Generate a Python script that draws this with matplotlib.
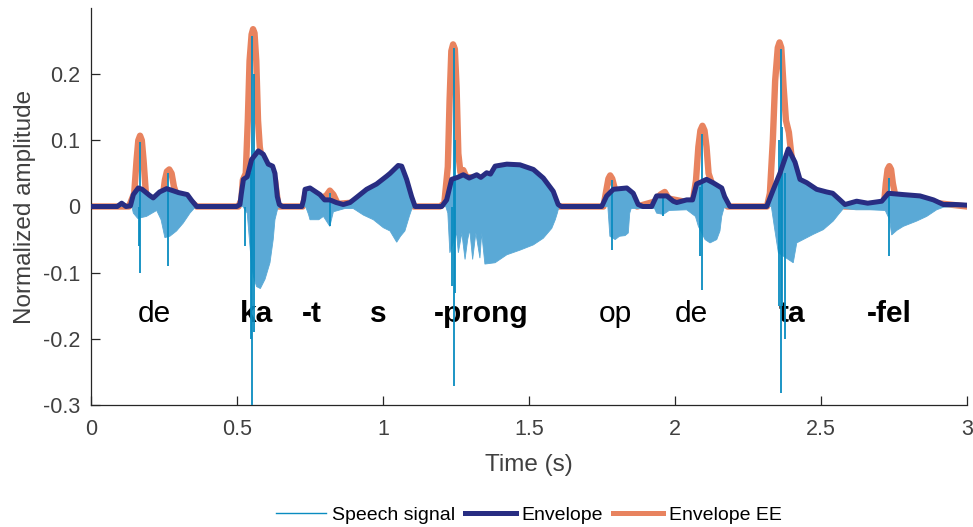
import numpy as np
import matplotlib
matplotlib.use("Agg")
import matplotlib.pyplot as plt
from matplotlib.lines import Line2D

# ---------------- data ----------------
env_t = [0, 0.09, 0.105, 0.12, 0.135, 0.145, 0.162, 0.175, 0.2, 0.213, 0.235, 0.259, 0.28, 0.30, 0.33, 0.345, 0.362,
         0.499, 0.51, 0.515, 0.522, 0.535, 0.55, 0.573, 0.59, 0.607, 0.622, 0.63, 0.638, 0.645, 0.655,
         0.722, 0.728, 0.733, 0.75, 0.784, 0.80, 0.818, 0.84, 0.864, 0.887, 0.91, 0.944, 0.978, 1.013, 1.024,
         1.052, 1.064, 1.081, 1.098, 1.11, 1.201, 1.218, 1.235, 1.255, 1.275, 1.295, 1.321, 1.335, 1.355,
         1.368, 1.384, 1.424, 1.469, 1.515, 1.549, 1.583, 1.6, 1.61, 1.749, 1.766, 1.789, 1.835, 1.857,
         1.874, 1.89, 1.92, 1.937, 1.972, 1.994, 2.006, 2.04, 2.06, 2.074, 2.108, 2.13, 2.16, 2.17, 2.188,
         2.314, 2.337, 2.36, 2.388, 2.411, 2.428, 2.451, 2.485, 2.519, 2.54, 2.565, 2.582, 2.622, 2.66,
         2.708, 2.731, 2.782, 2.839, 2.885, 2.919, 2.96, 3.0]
env_v = [0, 0, 0.005, 0, 0.001, 0.018, 0.028, 0.026, 0.017, 0.013, 0.022, 0.027, 0.024, 0.021, 0.018, 0.009, 0,
         0, 0.003, 0.02, 0.041, 0.045, 0.071, 0.084, 0.079, 0.064, 0.061, 0.05, 0.015, 0.003, 0,
         0, 0.01, 0.026, 0.028, 0.018, 0.01, 0.01, 0.006, 0.003, 0.006, 0.014, 0.026, 0.034, 0.046, 0.05,
         0.062, 0.061, 0.041, 0.015, 0, 0, 0.01, 0.041, 0.044, 0.048, 0.043, 0.048, 0.044, 0.051,
         0.049, 0.061, 0.064, 0.063, 0.056, 0.043, 0.023, 0.003, 0, 0, 0.016, 0.026, 0.028, 0.02,
         0.003, 0, 0, 0.016, 0.016, 0.008, 0.006, 0.01, 0.01, 0.034, 0.041, 0.036, 0.028, 0.015, 0,
         0, 0.026, 0.051, 0.087, 0.067, 0.041, 0.036, 0.026, 0.022, 0.02, 0.01, 0.003, 0.008, 0.005,
         0.008, 0.02, 0.018, 0.016, 0.01, 0.003, 0.003, 0.002]

ee_t = [0, 0.13, 0.148, 0.156, 0.162, 0.168, 0.174, 0.18, 0.188, 0.2, 0.245, 0.253, 0.26, 0.268, 0.276, 0.284,
        0.295, 0.33, 0.362, 0.505, 0.515, 0.52, 0.53, 0.537, 0.543, 0.55, 0.555, 0.56, 0.566, 0.572, 0.578,
        0.585, 0.60, 0.63, 0.642, 0.725, 0.735, 0.78, 0.805, 0.818, 0.83, 0.845, 0.9, 1.0, 1.05, 1.08, 1.105,
        1.195, 1.21, 1.222, 1.228, 1.234, 1.24, 1.246, 1.252, 1.258, 1.265, 1.275, 1.285, 1.35, 1.5, 1.58,
        1.6, 1.755, 1.765, 1.772, 1.778, 1.785, 1.795, 1.85, 1.87, 1.935, 1.95, 1.965, 1.978, 2.06, 2.072,
        2.08, 2.087, 2.094, 2.101, 2.108, 2.115, 2.13, 2.18, 2.315, 2.325, 2.335, 2.343, 2.352, 2.358,
        2.364, 2.372, 2.38, 2.39, 2.398, 2.41, 2.44, 2.58, 2.715, 2.722, 2.728, 2.734, 2.74, 2.746, 2.755,
        2.9, 3.0]
ee_v = [0, 0, 0.02, 0.07, 0.1, 0.107, 0.1, 0.07, 0.02, 0.008, 0.012, 0.04, 0.053, 0.056, 0.05, 0.03,
        0.015, 0.012, 0, 0, 0.01, 0.04, 0.05, 0.13, 0.22, 0.26, 0.268, 0.262, 0.22, 0.13, 0.09,
        0.07, 0.05, 0.04, 0, 0, 0.02, 0.012, 0.016, 0.024, 0.018, 0.004, 0.006, 0.035, 0.05, 0.03, 0,
        0, 0.005, 0.06, 0.16, 0.235, 0.245, 0.238, 0.18, 0.08, 0.052, 0.055, 0.045, 0.04, 0.045, 0.015,
        0, 0, 0.025, 0.042, 0.047, 0.042, 0.025, 0.015, 0, 0.008, 0.018, 0.022, 0.012, 0.005, 0.04,
        0.09, 0.115, 0.122, 0.115, 0.09, 0.05, 0.03, 0, 0, 0.02, 0.1, 0.19, 0.24, 0.248,
        0.24, 0.18, 0.13, 0.112, 0.08, 0.05, 0.03, 0, 0, 0.035, 0.056, 0.061, 0.056, 0.035, 0.015,
        0.005, 0]

# lower extent of the speech waveform
low_t = [0.0, 0.14, 0.145, 0.16, 0.19, 0.225, 0.24, 0.253, 0.27, 0.293, 0.316, 0.339, 0.355,
         0.52, 0.535, 0.55, 0.556, 0.567, 0.58, 0.596, 0.613, 0.624, 0.63, 0.64,
         0.735, 0.745, 0.75, 0.78, 0.796, 0.818, 0.83, 0.87, 0.898, 0.933, 0.967, 1.001, 1.024, 1.047,
         1.06, 1.075, 1.09, 1.1, 1.215, 1.222, 1.229, 1.252, 1.258, 1.27, 1.281, 1.29, 1.297, 1.307,
         1.318, 1.332, 1.338, 1.349, 1.384, 1.424, 1.469, 1.515, 1.549, 1.578, 1.59, 1.597, 1.603,
         1.77, 1.777, 1.795, 1.81, 1.829, 1.84, 1.845, 1.85, 1.93, 1.937, 1.96, 1.98, 2.04, 2.07, 2.08,
         2.103, 2.12, 2.143, 2.154, 2.16, 2.168, 2.33, 2.34, 2.354, 2.388, 2.405, 2.417, 2.439, 2.474,
         2.508, 2.542, 2.56, 2.577, 2.62, 2.668, 2.72, 2.735, 2.742, 2.76, 2.782, 2.828, 2.862, 2.896,
         2.92, 3.0]
low_v = [0, 0, -0.01, -0.018, -0.015, -0.006, -0.02, -0.047, -0.045, -0.037, -0.025, -0.01, -0.002,
         0, -0.01, -0.09, -0.105, -0.121, -0.124, -0.11, -0.085, -0.05, -0.02, -0.002,
         0, -0.012, -0.02, -0.02, -0.015, -0.03, -0.008, -0.003, -0.003, -0.013, -0.02, -0.032, -0.037, -0.054,
         -0.045, -0.037, -0.015, -0.002, 0, -0.01, -0.07, -0.04, -0.07, -0.04, -0.08, -0.05, -0.035, -0.08,
         -0.04, -0.078, -0.04, -0.087, -0.085, -0.073, -0.066, -0.058, -0.048, -0.033, -0.02, -0.01, 0,
         0, -0.045, -0.05, -0.045, -0.044, -0.04, -0.01, -0.003, -0.003, -0.01, -0.012, -0.006, -0.005, -0.015, -0.03,
         -0.05, -0.055, -0.05, -0.037, -0.015, -0.002, 0, -0.03, -0.07, -0.08, -0.085, -0.055, -0.05, -0.042,
         -0.035, -0.022, -0.012, -0.003, -0.005, -0.005, -0.006, -0.02, -0.043, -0.036, -0.03, -0.022, -0.015, -0.005,
         -0.001, 0]

# sharp excursions of the speech waveform
spike_t = [0.163, 0.168, 0.265, 0.527, 0.549, 0.553, 0.557, 0.818, 1.237, 1.243, 1.247, 1.783, 1.96,
           2.086, 2.094, 2.356, 2.362, 2.368, 2.377, 2.733]
spike_lo = [-0.06, -0.10, -0.09, -0.06, -0.20, -0.31, -0.19, -0.03, -0.12, -0.272, -0.13, -0.065, -0.015,
            -0.075, -0.126, -0.15, -0.282, -0.15, -0.20, -0.075]
spike_hi = [0.0, 0.097, 0.05, 0.0, 0.05, 0.258, 0.2, 0.02, 0.0, 0.24, 0.1, 0.04, 0.015,
            0.03, 0.11, 0.1, 0.238, 0.12, 0.05, 0.043]

words = ["de", "ka", "-t", "s", "-prong", "op", "de", "ta", "-fel"]
word_t = [0.216, 0.568, 0.757, 0.985, 1.335, 1.795, 2.055, 2.40, 2.735]
word_bold = [False, True, True, True, True, False, False, True, True]
word_y = -0.174

xticks = [0, 0.5, 1, 1.5, 2, 2.5, 3]
xticklabels = ["0", "0.5", "1", "1.5", "2", "2.5", "3"]
yticks = [-0.3, -0.2, -0.1, 0, 0.1, 0.2]
yticklabels = ["-0.3", "-0.2", "-0.1", "0", "0.1", "0.2"]

# ---------------- styling ----------------
plt.rcParams['font.family'] = ['Liberation Sans', 'DejaVu Sans']
AX_COL = '#262626'
TXT_COL = '#404040'
SIG_FILL = '#5aa9d6'
SIG_LINE = '#0a8cc0'
NAVY = '#282d82'
ORANGE = '#e8835f'

fig = plt.figure(figsize=(9.73, 5.27), dpi=100)
ax = fig.add_axes([91/973, 1 - 405/527, (967-91)/973, (405-8)/527])

# speech waveform body
poly_x = list(env_t) + list(low_t[::-1])
poly_y = list(env_v) + list(low_v[::-1])
ax.fill(poly_x, poly_y, color=SIG_FILL, lw=0.6, ec=SIG_FILL, zorder=3)
ax.vlines(spike_t, spike_lo, spike_hi, color=SIG_LINE, lw=1.3, zorder=3.5)

ax.plot(ee_t, ee_v, color=ORANGE, lw=4.6, solid_joinstyle='round', solid_capstyle='round', zorder=2)
ax.plot(env_t, env_v, color=NAVY, lw=3.6, solid_joinstyle='round', solid_capstyle='round', zorder=4)

for w, t, b in zip(words, word_t, word_bold):
    ax.text(t, word_y, w, ha='center', va='baseline', fontsize=21.5,
            fontweight='bold' if b else 'normal', color='black', zorder=1)

ax.set_xlim(0, 3)
ax.set_ylim(-0.3, 0.3)
ax.set_xticks(xticks)
ax.set_xticklabels(xticklabels)
ax.set_yticks(yticks)
ax.set_yticklabels(yticklabels)
for s in ['top', 'right']:
    ax.spines[s].set_visible(False)
for s in ['left', 'bottom']:
    ax.spines[s].set_color(AX_COL)
    ax.spines[s].set_linewidth(0.9)
ax.tick_params(axis='both', direction='in', length=6.5, width=0.9, color=AX_COL,
               labelcolor=TXT_COL, labelsize=15.5)
ax.tick_params(axis='x', pad=10)
ax.tick_params(axis='y', pad=8)
ax.set_xlabel("Time (s)", fontsize=17.5, color=TXT_COL, labelpad=10)
ax.set_ylabel("Normalized amplitude", fontsize=17.5, color=TXT_COL, labelpad=5)

handles = [Line2D([], [], color=SIG_LINE, lw=1.0),
           Line2D([], [], color=NAVY, lw=3.6),
           Line2D([], [], color=ORANGE, lw=3.6)]
leg = ax.legend(handles, ["Speech signal", "Envelope", "Envelope EE"], loc='center',
                bbox_to_anchor=(0.5, (405 - 515) / 397), ncol=3, frameon=False, fontsize=14,
                handlelength=2.6, handletextpad=0.3, columnspacing=0.5)
for txt in leg.get_texts():
    txt.set_color('black')

fig.savefig("out.png", dpi=100)
